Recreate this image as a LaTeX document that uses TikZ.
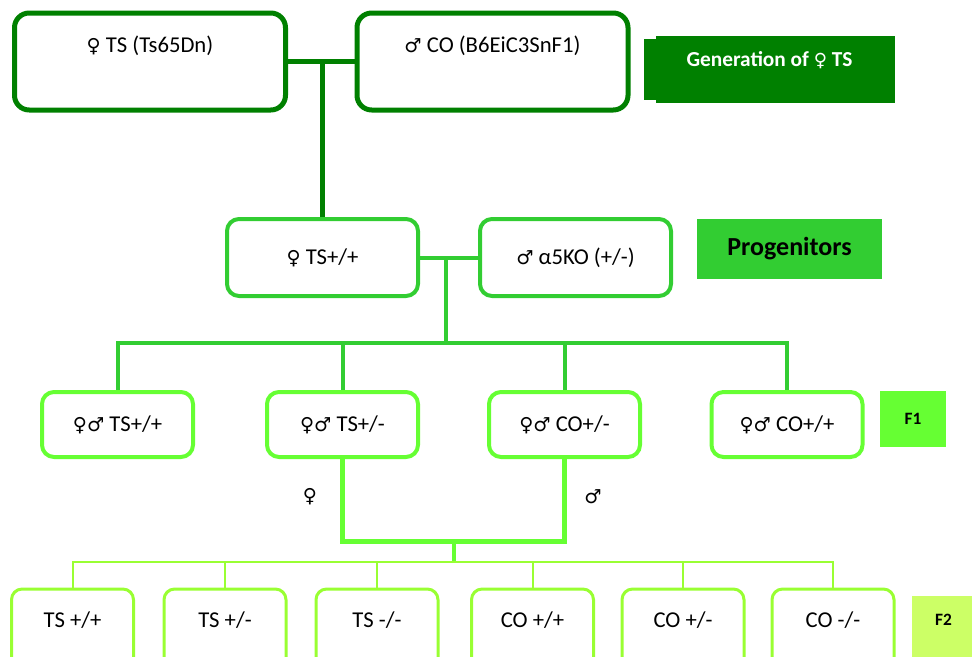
\documentclass[tikz,border=0pt]{standalone}
\usepackage{fontspec}
\setmainfont{Carlito}
\newfontfamily\symbfont[Scale=0.85]{DejaVu Sans}
\usetikzlibrary{backgrounds}
\definecolor{DarkGreen}{RGB}{0,128,0}
\definecolor{LimeGreen}{RGB}{50,205,50}
\definecolor{BrightGreen}{RGB}{102,255,51}
\definecolor{PaleGreen}{RGB}{153,255,51}
\definecolor{TagGreen}{RGB}{204,255,102}
\newcommand{\femsym}{{\symbfont ♀}}
\newcommand{\malsym}{{\symbfont ♂}}

\begin{document}
\begin{tikzpicture}[x=0.75pt,y=-0.75pt,
  parent/.style={draw=DarkGreen,line width=3.75pt,rounded corners=11pt,
                 minimum width=203.25pt,minimum height=72.75pt,
                 font=\fontsize{17}{20}\selectfont,text height=12pt,text depth=25.8pt},
  progbox/.style={draw=LimeGreen,line width=3pt,rounded corners=9pt,
                  minimum width=143.25pt,minimum height=57.75pt,
                  font=\fontsize{17}{20}\selectfont},
  f1box/.style={draw=BrightGreen,line width=3pt,rounded corners=9pt,
                minimum width=113.25pt,minimum height=48.75pt,
                font=\fontsize{17}{20}\selectfont},
  f2box/.style={draw=PaleGreen,line width=2.25pt,rounded corners=8pt,
                minimum width=91.5pt,minimum height=60pt,
                font=\fontsize{17}{20}\selectfont,text height=12pt,text depth=14.5pt},
  tag/.style={inner sep=0pt},
]
\useasboundingbox (0,0) rectangle (972,657);
\clip (0,0) rectangle (972,657);

% parents
\node[parent] (ts) at (150,61.5) {\femsym{} TS (Ts65Dn)};
\node[parent] (co) at (492.5,61.5) {\malsym{} CO (B6EiC3SnF1)};
\node[tag,fill=DarkGreen,text=white,minimum width=188.25pt,minimum height=45.75pt,
      font=\bfseries\fontsize{16}{19}\selectfont,text height=11pt,text depth=15.6pt]
  (gen) at (769.5,69.5) {Generation of \femsym{} TS};
\begin{scope}[on background layer]
  \fill[DarkGreen] ([xshift=9pt,yshift=2.25pt]gen.north west) rectangle ([yshift=-2.25pt]gen.south east);
\end{scope}

% progenitors
\node[progbox] (tsp) at (322.5,257.5) {\femsym{} TS+/+};
\node[progbox] (ko) at (575.5,257.5) {\malsym{} α5KO (+/-)};
\node[tag,fill=LimeGreen,minimum width=138.75pt,minimum height=45pt,
      font=\bfseries\fontsize{19.5}{23}\selectfont] (prog) at (789.5,249) {Progenitors};

% F1
\node[f1box] (f1a) at (117.5,424.5) {\femsym\malsym{} TS+/+};
\node[f1box] (f1b) at (342.5,424.5) {\femsym\malsym{} TS+/-};
\node[f1box] (f1c) at (564.5,424.5) {\femsym\malsym{} CO+/-};
\node[f1box] (f1d) at (787,424.5) {\femsym\malsym{} CO+/+};
\node[tag,fill=BrightGreen,minimum width=49.5pt,minimum height=42pt,
      font=\bfseries\fontsize{13}{15}\selectfont] (f1lab) at (913,419) {F1};

% F2
\foreach \x/\t [count=\i] in {72.5/{TS +/+},225/{TS +/-},377/{TS -/-},532.5/{CO +/+},683/{CO +/-},833/{CO -/-}}
  \node[f2box] (f2-\i) at (\x,629) {\t};
\node[tag,fill=TagGreen,minimum width=47.25pt,minimum height=51pt,
      font=\bfseries\fontsize{13}{15}\selectfont,text height=9pt,text depth=15.6pt]
  (f2lab) at (943.5,630) {F2};

\node[font=\fontsize{17}{20}\selectfont] (femlab) at (310,497) {\femsym};
\node[font=\fontsize{17}{20}\selectfont] (mallab) at (593,497) {\malsym};

% connectors
\draw[DarkGreen,line width=3.75pt] (ts.east) -- (co.west);
\draw[DarkGreen,line width=3.75pt] (tsp.north) -- (tsp.north |- ts.east);
\draw[LimeGreen,line width=3pt] (tsp.east) -- (ko.west);
\coordinate (f1bus) at (446,343);
\draw[LimeGreen,line width=3pt] (f1bus |- tsp.east) -- (f1bus);
\draw[LimeGreen,line width=3pt] (f1a.north) |- (f1bus) -| (f1d.north);
\draw[LimeGreen,line width=3pt] (f1b.north) -- (f1b.north |- f1bus);
\draw[LimeGreen,line width=3pt] (f1c.north) -- (f1c.north |- f1bus);
\coordinate (f2join) at (454,541);
\coordinate (f2bus) at (454,562);
\draw[BrightGreen,line width=3.75pt] (f1b.south) |- (f2join) -| (f1c.south);
\draw[BrightGreen,line width=3pt] (f2join) -- (f2bus);
\draw[PaleGreen,line width=1.5pt] (f2-1.north) |- (f2bus) -| (f2-6.north);
\foreach \i in {2,...,5}
  \draw[PaleGreen,line width=1.5pt] (f2-\i.north) -- (f2-\i.north |- f2bus);
\end{tikzpicture}
\end{document}
